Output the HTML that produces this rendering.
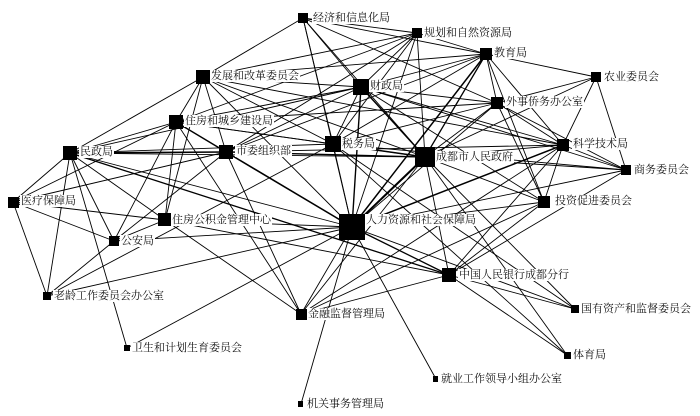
<!DOCTYPE html>
<html><head><meta charset="utf-8"><style>
html,body{margin:0;padding:0;background:#fff;}
#c{position:relative;width:700px;height:416px;overflow:hidden;font-family:"Liberation Serif","Noto Serif CJK SC","Noto Sans CJK SC",serif;}
svg{position:absolute;left:0;top:0;}
.l{position:absolute;font-size:11px;line-height:12px;white-space:nowrap;color:#111;background:#fff;padding:0 1px;}
</style></head><body><div id="c">
<svg width="700" height="416" viewBox="0 0 700 416" stroke="#000" stroke-width="0.9" fill="none">
<line x1="352" y1="227" x2="203" y2="77"/><line x1="352" y1="227" x2="176" y2="122"/><line x1="352" y1="227" x2="70" y2="153"/>
<line x1="352" y1="227" x2="226" y2="152" stroke-width="1.6"/><line x1="352" y1="227" x2="333" y2="144"/><line x1="352" y1="227" x2="361" y2="87" stroke-width="1.4"/>
<line x1="352" y1="227" x2="425" y2="157" stroke-width="2"/><line x1="352" y1="227" x2="486" y2="54" stroke-width="1.5"/><line x1="352" y1="227" x2="417" y2="33"/>
<line x1="352" y1="227" x2="303" y2="18"/><line x1="352" y1="227" x2="497" y2="103"/><line x1="352" y1="227" x2="563" y2="145" stroke-width="1.5"/>
<line x1="352" y1="227" x2="544" y2="202"/><line x1="352" y1="227" x2="165" y2="220"/><line x1="352" y1="227" x2="114" y2="241"/>
<line x1="352" y1="227" x2="449" y2="275" stroke-width="1.3"/><line x1="352" y1="227" x2="301" y2="314"/><line x1="352" y1="227" x2="436" y2="379"/>
<line x1="352" y1="227" x2="301" y2="404"/><line x1="352" y1="227" x2="127" y2="348"/><line x1="352" y1="227" x2="47" y2="296"/>
<line x1="352" y1="227" x2="626" y2="170"/><line x1="352" y1="227" x2="575" y2="309"/>
<line x1="425" y1="157" x2="203" y2="77"/><line x1="425" y1="157" x2="361" y2="87" stroke-width="1.4"/><line x1="425" y1="157" x2="333" y2="144" stroke-width="1.5"/>
<line x1="425" y1="157" x2="226" y2="152" stroke-width="1.3"/><line x1="425" y1="157" x2="176" y2="122"/><line x1="425" y1="157" x2="70" y2="153"/>
<line x1="425" y1="157" x2="486" y2="54" stroke-width="1.3"/><line x1="425" y1="157" x2="417" y2="33"/><line x1="425" y1="157" x2="303" y2="18"/>
<line x1="425" y1="157" x2="497" y2="103"/><line x1="425" y1="157" x2="563" y2="145"/><line x1="425" y1="157" x2="626" y2="170"/>
<line x1="425" y1="157" x2="544" y2="202"/><line x1="425" y1="157" x2="449" y2="275"/><line x1="425" y1="157" x2="575" y2="309"/>
<line x1="425" y1="157" x2="567" y2="355"/><line x1="425" y1="157" x2="301" y2="314"/><line x1="425" y1="157" x2="596" y2="77"/>
<line x1="361" y1="87" x2="203" y2="77"/><line x1="361" y1="87" x2="176" y2="122"/><line x1="361" y1="87" x2="303" y2="18"/>
<line x1="361" y1="87" x2="417" y2="33"/><line x1="361" y1="87" x2="486" y2="54"/><line x1="361" y1="87" x2="497" y2="103"/>
<line x1="361" y1="87" x2="563" y2="145"/><line x1="361" y1="87" x2="626" y2="170"/><line x1="361" y1="87" x2="70" y2="153"/>
<line x1="361" y1="87" x2="226" y2="152"/><line x1="361" y1="87" x2="333" y2="144"/><line x1="361" y1="87" x2="544" y2="202"/>
<line x1="203" y1="77" x2="303" y2="18"/><line x1="203" y1="77" x2="176" y2="122"/><line x1="203" y1="77" x2="70" y2="153"/>
<line x1="203" y1="77" x2="226" y2="152"/><line x1="203" y1="77" x2="333" y2="144"/><line x1="203" y1="77" x2="563" y2="145"/>
<line x1="203" y1="77" x2="486" y2="54"/><line x1="203" y1="77" x2="165" y2="220"/><line x1="203" y1="77" x2="417" y2="33"/>
<line x1="176" y1="122" x2="70" y2="153"/><line x1="176" y1="122" x2="226" y2="152" stroke-width="1.4"/><line x1="176" y1="122" x2="333" y2="144"/>
<line x1="176" y1="122" x2="417" y2="33"/><line x1="176" y1="122" x2="301" y2="314"/><line x1="176" y1="122" x2="165" y2="220"/>
<line x1="176" y1="122" x2="114" y2="241"/><line x1="176" y1="122" x2="497" y2="103"/>
<line x1="70" y1="153" x2="226" y2="152" stroke-width="1.4"/><line x1="70" y1="153" x2="333" y2="144"/><line x1="70" y1="153" x2="13" y2="202"/>
<line x1="70" y1="153" x2="47" y2="296"/><line x1="70" y1="153" x2="114" y2="241"/><line x1="70" y1="153" x2="165" y2="220"/>
<line x1="70" y1="153" x2="449" y2="275" stroke-width="1.3"/><line x1="70" y1="153" x2="127" y2="348"/>
<line x1="13" y1="202" x2="47" y2="296"/><line x1="13" y1="202" x2="114" y2="241"/><line x1="13" y1="202" x2="165" y2="220"/>
<line x1="13" y1="202" x2="176" y2="122"/><line x1="13" y1="202" x2="226" y2="152"/>
<line x1="114" y1="241" x2="47" y2="296"/><line x1="114" y1="241" x2="165" y2="220"/><line x1="114" y1="241" x2="226" y2="152"/>
<line x1="47" y1="296" x2="333" y2="144"/>
<line x1="303" y1="18" x2="417" y2="33"/><line x1="303" y1="18" x2="486" y2="54"/><line x1="303" y1="18" x2="497" y2="103"/><line x1="303" y1="18" x2="333" y2="144"/>
<line x1="417" y1="33" x2="486" y2="54"/><line x1="417" y1="33" x2="226" y2="152"/><line x1="417" y1="33" x2="333" y2="144"/>
<line x1="486" y1="54" x2="596" y2="77"/><line x1="486" y1="54" x2="497" y2="103"/><line x1="486" y1="54" x2="563" y2="145"/>
<line x1="486" y1="54" x2="544" y2="202"/><line x1="486" y1="54" x2="226" y2="152"/><line x1="486" y1="54" x2="333" y2="144"/>
<line x1="596" y1="77" x2="563" y2="145"/><line x1="596" y1="77" x2="626" y2="170"/><line x1="596" y1="77" x2="497" y2="103"/>
<line x1="563" y1="145" x2="626" y2="170"/><line x1="563" y1="145" x2="544" y2="202"/><line x1="563" y1="145" x2="449" y2="275"/>
<line x1="563" y1="145" x2="497" y2="103"/><line x1="563" y1="145" x2="301" y2="314"/><line x1="563" y1="145" x2="226" y2="152"/>
<line x1="497" y1="103" x2="544" y2="202"/><line x1="497" y1="103" x2="626" y2="170"/><line x1="497" y1="103" x2="333" y2="144"/>
<line x1="626" y1="170" x2="449" y2="275"/><line x1="626" y1="170" x2="333" y2="144"/>
<line x1="165" y1="220" x2="449" y2="275"/><line x1="165" y1="220" x2="301" y2="314"/>
<line x1="449" y1="275" x2="575" y2="309"/><line x1="449" y1="275" x2="567" y2="355"/><line x1="449" y1="275" x2="301" y2="314"/>
<line x1="449" y1="275" x2="544" y2="202"/><line x1="301" y1="314" x2="544" y2="202"/>
<line x1="333" y1="144" x2="575" y2="309"/><line x1="333" y1="144" x2="567" y2="355"/><line x1="226" y1="152" x2="301" y2="314"/>
<g fill="#000" stroke="none">
<rect x="298" y="13" width="10" height="10"/><rect x="412" y="28" width="10" height="10"/><rect x="480" y="48" width="12" height="12"/>
<rect x="591" y="72" width="10" height="10"/><rect x="196" y="70" width="14" height="14"/><rect x="353" y="79" width="16" height="16"/>
<rect x="491" y="97" width="12" height="12"/><rect x="169" y="115" width="14" height="14"/><rect x="557" y="139" width="12" height="12"/>
<rect x="63" y="146" width="14" height="14"/><rect x="219" y="145" width="14" height="14"/><rect x="325" y="136" width="16" height="16"/>
<rect x="415" y="147" width="20" height="20"/><rect x="621" y="165" width="10" height="10"/><rect x="8" y="197" width="11" height="11"/>
<rect x="538" y="196" width="12" height="12"/><rect x="158" y="213" width="13" height="13"/><rect x="339" y="214" width="26" height="26"/>
<rect x="109" y="236" width="10" height="10"/><rect x="442" y="268" width="14" height="14"/><rect x="43" y="292" width="8" height="8"/>
<rect x="571" y="305" width="8" height="8"/><rect x="296" y="309" width="11" height="11"/><rect x="124" y="345" width="6" height="6"/>
<rect x="564" y="352" width="7" height="7"/><rect x="433" y="376" width="5" height="6"/><rect x="298" y="401" width="5" height="6"/>
</g></svg>
<div class="l" style="left:312px;top:12px">经济和信息化局</div>
<div class="l" style="left:423px;top:27px">规划和自然资源局</div>
<div class="l" style="left:493px;top:47px">教育局</div>
<div class="l" style="left:603px;top:71px">农业委员会</div>
<div class="l" style="left:210px;top:70px">发展和改革委员会</div>
<div class="l" style="left:369px;top:80px">财政局</div>
<div class="l" style="left:505px;top:96px">外事侨务办公室</div>
<div class="l" style="left:184px;top:115px">住房和城乡建设局</div>
<div class="l" style="left:572px;top:138px">科学技术局</div>
<div class="l" style="left:79px;top:146px">民政局</div>
<div class="l" style="left:235px;top:145px">市委组织部</div>
<div class="l" style="left:341px;top:138px">税务局</div>
<div class="l" style="left:435px;top:151px">成都市人民政府</div>
<div class="l" style="left:633px;top:164px">商务委员会</div>
<div class="l" style="left:20px;top:195px">医疗保障局</div>
<div class="l" style="left:554px;top:195px">投资促进委员会</div>
<div class="l" style="left:171px;top:214px">住房公积金管理中心</div>
<div class="l" style="left:365px;top:214px">人力资源和社会保障局</div>
<div class="l" style="left:120px;top:235px">公安局</div>
<div class="l" style="left:458px;top:269px">中国人民银行成都分行</div>
<div class="l" style="left:53px;top:290px">老龄工作委员会办公室</div>
<div class="l" style="left:580px;top:303px">国有资产和监督委员会</div>
<div class="l" style="left:307px;top:308px">金融监督管理局</div>
<div class="l" style="left:131px;top:342px">卫生和计划生育委员会</div>
<div class="l" style="left:572px;top:349px">体育局</div>
<div class="l" style="left:440px;top:373px">就业工作领导小组办公室</div>
<div class="l" style="left:306px;top:398px">机关事务管理局</div>
</div></body></html>
